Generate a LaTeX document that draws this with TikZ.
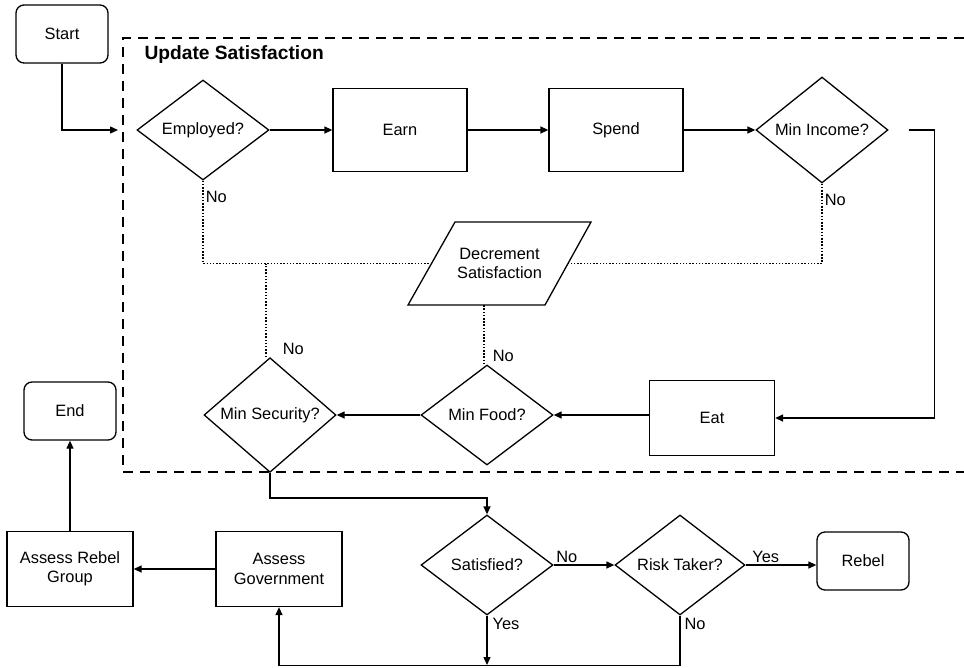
\documentclass[tikz,border=0pt]{standalone}
\usepackage{fontspec}
\setmainfont{Liberation Sans}
\usepackage{tikz}
\usetikzlibrary{shapes.geometric, arrows.meta}

\tikzset{
  flow/.style={line width=1.3pt},
  termbox/.style={draw, flow, rounded corners=8pt, minimum width=92pt, minimum height=58pt},
  procbox/.style={draw, flow, minimum width=134pt, minimum height=83pt, align=center},
  smallbox/.style={draw, flow, minimum width=126pt, minimum height=75pt, align=center},
  decision/.style={diamond, draw, flow, minimum width=132pt, minimum height=100pt, inner sep=0pt},
  iotext/.style={minimum width=136pt, minimum height=83pt, inner sep=0pt, align=center},
  arr/.style={flow, -{Triangle[length=8pt, width=7pt]}},
  dots/.style={line width=1.5pt, dash pattern=on 1.5pt off 1.7pt},
  lbl/.style={inner sep=2pt}
}

\begin{document}
\begin{tikzpicture}[x=1pt, y=-1pt, font=\fontsize{16.4}{19.5}\selectfont]
      \useasboundingbox (0,0) rectangle (964,667);

      % update satisfaction group
      \draw[line width=2pt, dash pattern=on 10pt off 7pt] (964,38) -- (123,38) -- (123,472) -- (964,472);
      \node[anchor=west, font=\fontsize{19.2}{22}\selectfont\bfseries] (title) at (141,55) {Update Satisfaction};

      \node[termbox] (start) at (62,34) {Start};
      \coordinate (entry) at (118,130);

      \node[decision] (emp) at (203,130) {Employed?};
      \node[procbox] (earn) at (400,130) {Earn};
      \node[procbox] (spend) at (616,130) {Spend};
      \node[decision] (minc) at (822,130) {Min Income?};

      % parallelogram drawn by hand round its text
      \node[iotext] (dec) at (499.5,263.5) {Decrement\\Satisfaction};
      \draw[flow] (dec.center) ++(-44.5,-41.5) -- ++(136,0) -- ++(-46,83) -- ++(-137,0) -- cycle;
      \path (dec.center) ++(-68,0) coordinate (decL);
      \path (dec.center) ++(68.5,0) coordinate (decR);

      \node[smallbox, minimum width=125pt] (eat) at (712,418) {Eat};
      \node[decision] (mfood) at (487,415) {Min Food?};
      \node[decision] (msec) at (270,415) {Min Security?};

      \node[termbox] (endn) at (70,411) {End};
      \node[decision] (sat) at (487,565) {Satisfied?};
      \node[decision, minimum width=130pt] (risk) at (680,565) {Risk Taker?};
      \node[termbox] (rebel) at (863,561) {Rebel};
      \node[smallbox] (gov) at (279,569) {Assess\\Government};
      \node[smallbox] (group) at (70,569) {Assess Rebel\\Group};
      \coordinate (merge) at (487,665);

      \draw[arr] (start.south) |- (entry);
      \draw[arr] (emp.east) -- (earn.west);
      \draw[arr] (earn.east) -- (spend.west);
      \draw[arr] (spend.east) -- (minc.west);
      \draw[arr, shorten <=20pt] (minc.east) -- ++(46,0) |- (eat.east);
      \draw[arr] (eat.west |- mfood.east) -- (mfood.east);
      \draw[arr] (mfood.west) -- (msec.east);

      % decrement branches
      \draw[dots] (emp.south) |- node[lbl, pos=0.1, right] {No} (decL);
      \draw[dots] (minc.south) |- node[lbl, pos=0.1, right] {No} (decR);
      \draw[dots] (msec.north) ++(-4,0) coordinate (secup) -- node[lbl, pos=0, anchor=south west, xshift=14pt] {No} (secup |- decL);
      \draw[dots] (mfood.north) ++(-3,0) coordinate (foodup) -- node[lbl, pos=0, anchor=south west, xshift=6pt] {No} (foodup |- dec.south);

      \draw[arr] (msec.south) -- ++(0,25) -| (sat.north);
      \draw[arr] (sat.east) -- node[lbl, pos=0, anchor=south west] {No} (risk.west);
      \draw[arr] (risk.east) -- node[lbl, pos=0, anchor=south west, xshift=4pt] {Yes} (rebel.west |- risk.east);
      \draw[arr] (sat.south) -- node[lbl, pos=0, anchor=north west, xshift=3pt] {Yes} (merge);
      \draw[arr] (risk.south) -- node[lbl, pos=0, anchor=north west, xshift=2pt] {No} ++(0,50) -| (gov.south);
      \draw[arr] (gov.west) -- (group.east);
      \draw[arr] (group.north) -- (endn.south);
    \end{tikzpicture}
\end{document}
